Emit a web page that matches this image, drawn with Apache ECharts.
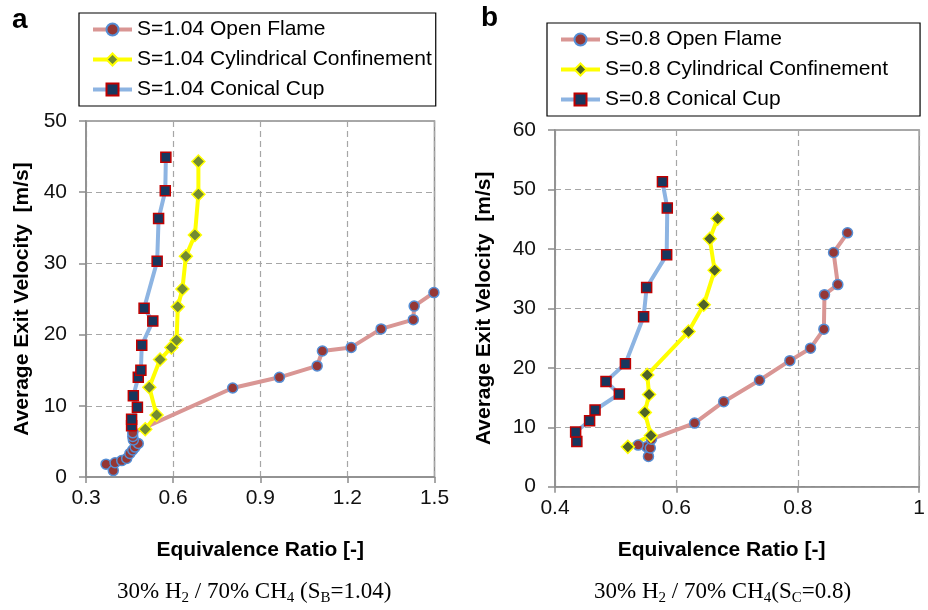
<!DOCTYPE html>
<html>
<head>
<meta charset="utf-8">
<script src="https://cdn.jsdelivr.net/npm/echarts@6/dist/echarts.min.js"></script>
</head>
<body style="margin:0;background:#ffffff;">
<div id="chart1" style="width:928px;height:610px;"></div>
<script>
    // panel a : S=1.04, equivalence ratio (x) vs exit velocity (y)
    var aOpenPhi = [0.369, 0.394, 0.400, 0.423, 0.440, 0.451, 0.461, 0.469, 0.480, 0.463, 0.461, 0.461, 0.805, 0.966, 1.096, 1.114, 1.213, 1.316, 1.427, 1.430, 1.498];
    var aOpenVel = [1.8, 0.9, 2.0, 2.3, 2.6, 3.3, 3.8, 4.2, 4.7, 5.2, 5.7, 6.2, 12.5, 14.0, 15.6, 17.7, 18.2, 20.8, 22.1, 24.0, 25.9];
    var aCylPhi = [0.504, 0.543, 0.518, 0.555, 0.594, 0.612, 0.616, 0.632, 0.644, 0.675, 0.687, 0.687];
    var aCylVel = [6.7, 8.7, 12.6, 16.5, 18.2, 19.2, 23.9, 26.4, 31.0, 34.0, 39.7, 44.3];
    var aConPhi = [0.457, 0.457, 0.477, 0.463, 0.480, 0.489, 0.492, 0.530, 0.500, 0.545, 0.550, 0.573, 0.575];
    var aConVel = [7.2, 8.1, 9.8, 11.4, 14.0, 15.0, 18.5, 21.9, 23.7, 30.3, 36.3, 40.2, 44.9];

    // panel b : S=0.8
    var bOpenPhi = [0.554, 0.551, 0.537, 0.557, 0.559, 0.630, 0.678, 0.737, 0.787, 0.821, 0.843, 0.844, 0.866, 0.859, 0.882];
    var bOpenVel = [5.1, 6.7, 7.0, 6.5, 8.0, 10.7, 14.3, 17.9, 21.2, 23.3, 26.5, 32.3, 34.0, 39.4, 42.7];
    var bCylPhi = [0.520, 0.558, 0.548, 0.555, 0.552, 0.620, 0.645, 0.663, 0.655, 0.668];
    var bCylVel = [6.7, 8.6, 12.5, 15.5, 18.8, 26.1, 30.6, 36.4, 41.7, 45.1];
    var bConPhi = [0.436, 0.434, 0.457, 0.466, 0.506, 0.484, 0.516, 0.546, 0.551, 0.584, 0.585, 0.577];
    var bConVel = [7.6, 9.2, 11.1, 12.9, 15.6, 17.7, 20.7, 28.6, 33.5, 39.0, 46.9, 51.3];

    var aNames = ['S=1.04 Open Flame', 'S=1.04 Cylindrical Confinement', 'S=1.04 Conical Cup'];
    var bNames = ['S=0.8 Open Flame', 'S=0.8 Cylindrical Confinement', 'S=0.8 Conical Cup'];
    var aTicksX = [0.3, 1.5, 0.3];   // min, max, step
    var bTicksX = [0.4, 1.0, 0.2];
    var aTicksY = [0, 50, 10];
    var bTicksY = [0, 60, 10];

    var sFont = 'Liberation Sans, Arial, sans-serif';
    var sGray = '#8c8c8c';

    function pairs(x, y) {
        var r = [];
        for (var i = 0; i < x.length; i++) { r.push([x[i], y[i]]); }
        return r;
    }

    // общий вид серий
    function openSeries(name, idx, data) {
        return { name: name, type: 'line', xAxisIndex: idx, yAxisIndex: idx, data: data,
            symbol: 'circle', symbolSize: 10,
            lineStyle: { color: '#d99694', width: 4 },
            itemStyle: { color: '#953735', borderColor: '#558ed5', borderWidth: 1.5 } };
    }
    function cylSeries(name, idx, data, fill) {
        return { name: name, type: 'line', xAxisIndex: idx, yAxisIndex: idx, data: data,
            symbol: 'diamond', symbolSize: 13,
            lineStyle: { color: '#ffff00', width: 4 },
            itemStyle: { color: fill, borderColor: '#ffff00', borderWidth: 1.5 } };
    }
    function conSeries(name, idx, data) {
        return { name: name, type: 'line', xAxisIndex: idx, yAxisIndex: idx, data: data,
            symbol: 'rect', symbolSize: 10,
            lineStyle: { color: '#8db4e2', width: 4 },
            itemStyle: { color: '#17375e', borderColor: '#c00000', borderWidth: 1.5 } };
    }

    function xAxisOf(idx, t, gap, pad, fmt) {
        return { gridIndex: idx, type: 'value', min: t[0], max: t[1], interval: t[2],
            name: 'Equivalence Ratio [-]', nameLocation: 'middle', nameGap: gap,
            nameTextStyle: { fontFamily: sFont, fontSize: 21, fontWeight: 'bold', color: '#000', padding: pad },
            axisLine: { lineStyle: { color: sGray, width: 1.5 } },
            axisTick: { length: 6, lineStyle: { color: sGray, width: 1.5 } },
            axisLabel: { margin: 11, fontFamily: sFont, fontSize: 21, color: '#111', formatter: fmt },
            splitLine: { show: true, lineStyle: { color: '#a6a6a6', width: 1.2, type: [6, 4] } } };
    }
    function yAxisOf(idx, t, gap) {
        return { gridIndex: idx, type: 'value', min: t[0], max: t[1], interval: t[2],
            name: 'Average Exit Velocity  [m/s]', nameLocation: 'middle', nameGap: gap, nameRotate: 90,
            nameTextStyle: { fontFamily: sFont, fontSize: 21, fontWeight: 'bold', color: '#000' },
            axisLine: { show: true, lineStyle: { color: sGray, width: 1.5 } },
            axisTick: { show: true, length: 7, lineStyle: { color: sGray, width: 1.5 } },
            axisLabel: { margin: 19, fontFamily: sFont, fontSize: 21, color: '#111' },
            splitLine: { show: true, lineStyle: { color: '#a6a6a6', width: 1.2, type: [6, 4] } } };
    }
    function legendOf(names, left, top, pad) {
        return { data: names, orient: 'vertical', left: left, top: top,
            itemWidth: 39, itemHeight: 15, itemGap: 9, padding: pad,
            lineStyle: { width: 4 },
            borderColor: '#000', borderWidth: 1.2, backgroundColor: '#fff',
            textStyle: { fontFamily: sFont, fontSize: 21, color: '#000' } };
    }
    function caption(x, y, text) {
        return { type: 'text', left: x, top: y, style: { text: text,
            rich: { n: { fontFamily: 'Liberation Serif, Times New Roman, serif', fontSize: 23, color: '#000', lineHeight: 28 },
                    s: { fontFamily: 'Liberation Serif, Times New Roman, serif', fontSize: 15, color: '#000', lineHeight: 14, verticalAlign: 'bottom' } } } };
    }

    var chartDom = document.getElementById('chart1');
    var myChart = echarts.init(chartDom, null, { renderer: 'canvas' });
    var option = {
        animation: false,
        backgroundColor: '#fff',
        grid: [
            { left: 86, top: 121, width: 348.5, height: 356, show: true, borderColor: sGray, borderWidth: 1.5 },
            { left: 555, top: 130, width: 370.5, height: 356.7, show: true, borderColor: sGray, borderWidth: 1.5 }
        ],
        xAxis: [
            xAxisOf(0, aTicksX, 63, [0, 0, 0, 0], function (v) { return v.toFixed(1); }),
            xAxisOf(1, bTicksX, 53, [0, 31, 0, 0], function (v) { return v === 1 ? '1' : v.toFixed(1); })
        ],
        yAxis: [yAxisOf(0, aTicksY, 53), yAxisOf(1, bTicksY, 60)],
        legend: [
            legendOf(aNames, 79, 13, [6, 4, 6, 12]),
            legendOf(bNames, 547, 23, [6, 32, 6, 12])
        ],
        series: [
            openSeries(aNames[0], 0, pairs(aOpenPhi, aOpenVel)),
            cylSeries(aNames[1], 0, pairs(aCylPhi, aCylVel), '#728b32'),
            conSeries(aNames[2], 0, pairs(aConPhi, aConVel)),
            openSeries(bNames[0], 1, pairs(bOpenPhi, bOpenVel)),
            cylSeries(bNames[1], 1, pairs(bCylPhi, bCylVel), '#4f6228'),
            conSeries(bNames[2], 1, pairs(bConPhi, bConVel))
        ],
        graphic: [
            { type: 'text', left: 12, top: 6, style: { text: 'a', fontFamily: sFont, fontSize: 28, fontWeight: 'bold', fill: '#000' } },
            { type: 'text', left: 481, top: 4, style: { text: 'b', fontFamily: sFont, fontSize: 28, fontWeight: 'bold', fill: '#000' } },
            caption(117, 580, '{n|30% H}{s|2}{n| / 70% CH}{s|4}{n| (S}{s|B}{n|=1.04)}'),
            caption(594, 580, '{n|30% H}{s|2}{n| / 70% CH}{s|4}{n|(S}{s|C}{n|=0.8)}')
        ]
    };
    option && myChart.setOption(option);
</script>
</body>
</html>
